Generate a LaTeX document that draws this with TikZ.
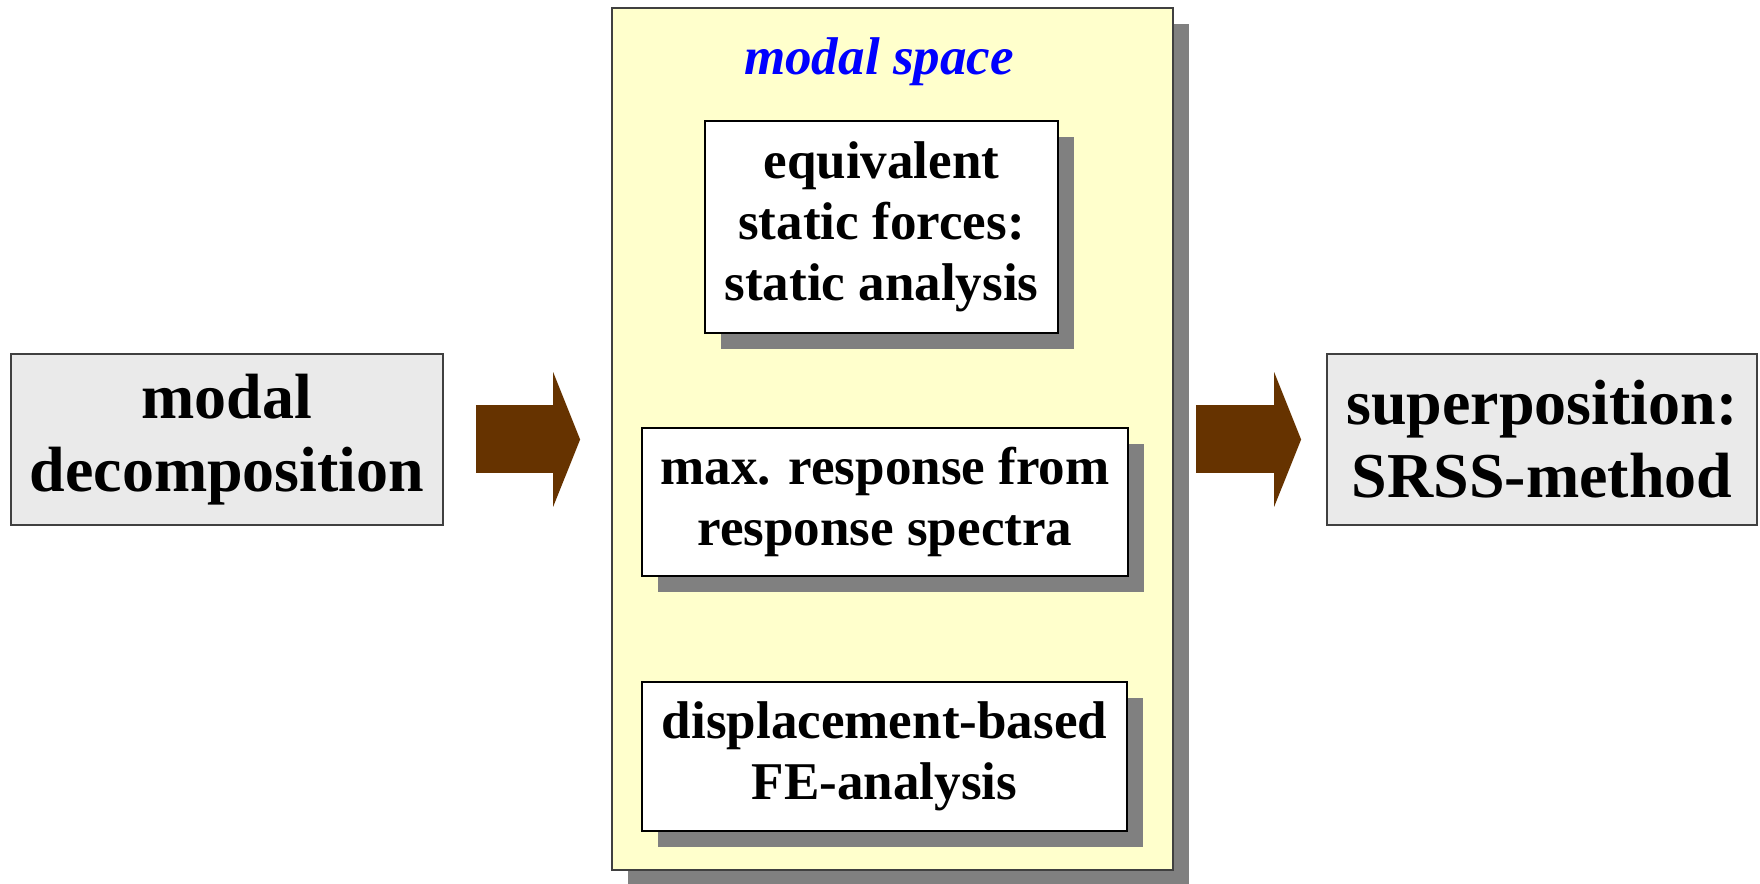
\documentclass[tikz,border=0pt]{standalone}
\usepackage{fontspec}
\setmainfont{Liberation Serif}
\usetikzlibrary{arrows.meta, shadows}
\definecolor{PanelYellow}{HTML}{FFFFCC}
\definecolor{BoxGray}{HTML}{EAEAEA}
\definecolor{ShadowGray}{HTML}{808080}
\definecolor{ArrowBrown}{HTML}{663300}
\definecolor{TitleBlue}{HTML}{0000FF}

\tikzset{
  outerbox/.style={draw=black!75, fill=BoxGray, line width=0.5pt, inner sep=0pt,
    minimum height=1.71cm, align=center,
    font=\fontsize{18.2}{20.8}\selectfont\bfseries},
  innerbox/.style={draw=black, fill=white, line width=0.5pt, inner sep=0pt,
    align=center, font=\fontsize{15.1}{17.4}\selectfont\bfseries,
    drop shadow={shadow xshift=0.16cm, shadow yshift=-0.16cm,
      fill=ShadowGray, opacity=1}},
  blockarrow/.style={ArrowBrown, line width=0.68cm,
    -{Triangle[length=0.27cm, width=1.34cm]}},
}

\begin{document}
\begin{tikzpicture}
  \useasboundingbox (0,0) rectangle (17.6,8.84);

  % modal space panel
  \node[draw=black!75, fill=PanelYellow, line width=0.5pt, minimum width=5.61cm,
    minimum height=8.62cm,
    drop shadow={shadow xshift=0.16cm, shadow yshift=-0.16cm, fill=ShadowGray, opacity=1}]
    (panel) at (8.925,4.45) {};
  \node[anchor=base, text=TitleBlue, font=\fontsize{15.1}{17.4}\selectfont\bfseries\itshape]
    (title) at (8.79,8.09) {modal space};

  \node[innerbox, minimum width=3.53cm, minimum height=2.12cm] (eqforces) at (8.815,6.57)
    {equivalent\\static forces:\\static analysis};
  \node[innerbox, minimum width=4.86cm, minimum height=1.48cm] (maxresp) at (8.85,3.82)
    {max. response from\\response spectra};
  \node[innerbox, minimum width=4.85cm, minimum height=1.49cm] (fedisp) at (8.845,1.275)
    {displacement-based\\FE-analysis};

  % outer boxes
  \node[outerbox, minimum width=4.32cm] (decomp) at (2.27,4.445) {modal\\decomposition};
  \node[outerbox, minimum width=4.30cm] (superpos) at (15.42,4.445) {superposition:\\SRSS-method};

  % block arrows
  \draw[blockarrow] ([xshift=0.32cm]decomp.east) -- ([xshift=-0.31cm]panel.west |- decomp.east);
  \draw[blockarrow] ([xshift=0.22cm]panel.east |- superpos.west) -- ([xshift=-0.25cm]superpos.west);
\end{tikzpicture}
\end{document}
